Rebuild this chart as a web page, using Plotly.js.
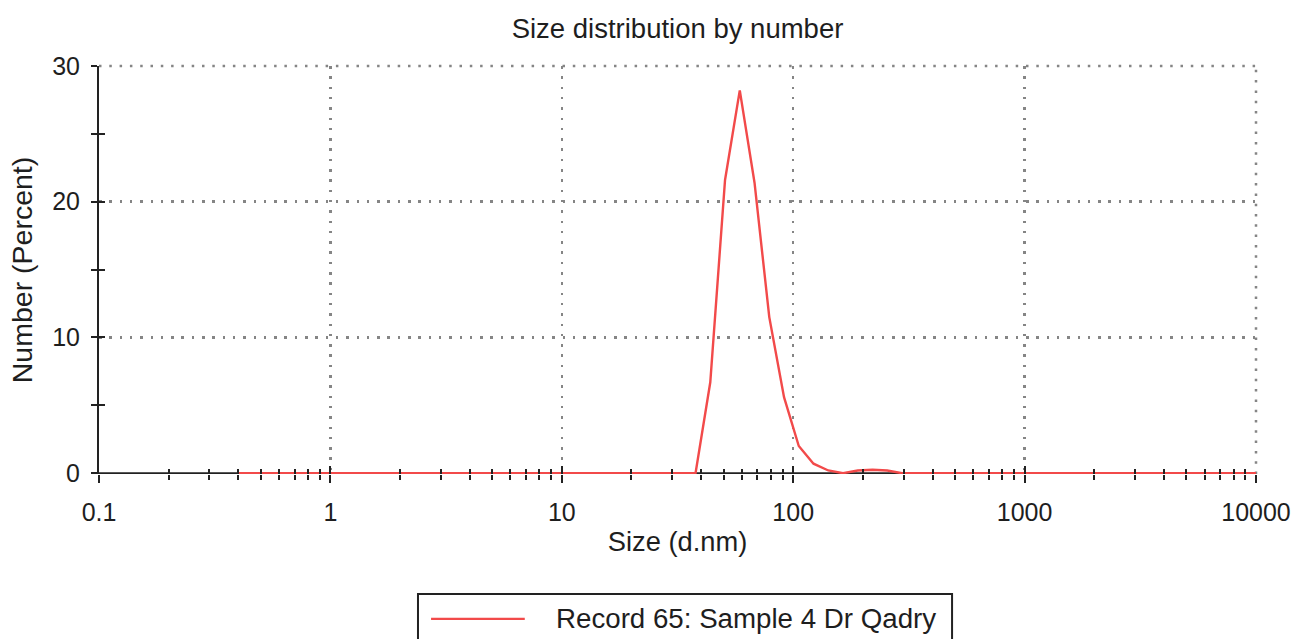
<!DOCTYPE html>
<html>
<head>
<meta charset="utf-8">
<script src="https://cdn.plot.ly/plotly-3.0.1.min.js"></script>
<style>
html,body{margin:0;padding:0;background:#fff;}
#chart{width:1298px;height:639px;}
</style>
</head>
<body>
<div id="chart"></div>
<script>
// Size bins (d.nm)
const sizes = [0.4, 0.4632, 0.5365, 0.6213, 0.7195, 0.8332, 0.9649, 1.117, 1.294, 1.499,
  1.736, 2.01, 2.328, 2.696, 3.122, 3.615, 4.187, 4.849, 5.615, 6.503,
  7.531, 8.721, 10.1, 11.7, 13.54, 15.69, 18.17, 21.04, 24.36, 28.21,
  32.67, 37.84, 43.82, 50.75, 58.77, 68.06, 78.82, 91.28, 105.7, 122.4,
  141.8, 164.2, 190.1, 220.2, 255, 295.3, 342, 396.1, 458.7, 531.2,
  615.1, 712.4, 825, 955.4, 1106, 1281, 1484, 1718, 1990, 2305,
  2669, 3091, 3580, 4145, 4801, 5560, 6439, 7456, 8635, 10000];
// Number (%) per bin
const numberPct = [0,0,0,0,0,0,0,0,0,0,
  0,0,0,0,0,0,0,0,0,0,
  0,0,0,0,0,0,0,0,0,0,
  0,0, 6.7, 21.6, 28.2, 21.4, 11.5, 5.6, 2.0, 0.7,
  0.2, 0.0, 0.2, 0.25, 0.2, 0,0,0,0,0,
  0,0,0,0,0,0,0,0,0,0,
  0,0,0,0,0,0,0,0,0,0];

const xTickVals = [0.1, 1, 10, 100, 1000, 10000];
const xTickText = ['0.1', '1', '10', '100', '1000', '10000'];
const yTickVals = [0, 10, 20, 30];
const yMinorVals = [5, 15, 25];
const seriesName = 'Record 65: Sample 4 Dr Qadry';

const xMinorVals = [];
for (let d = -1; d < 4; d++) {
  for (let k = 2; k <= 9; k++) xMinorVals.push(k * Math.pow(10, d));
}

const FONT = 'Liberation Sans, Arial, Helvetica, sans-serif';
const TXT = '#1e1e1e';
const GRID = '#858585';
const gridDash = '2.5px,7.8px';
const RED = '#f24a4a';

const trace = {
  x: sizes, y: numberPct, type: 'scatter', mode: 'lines',
  name: seriesName, cliponaxis: false,
  line: {color: RED, width: 2.4},
  xaxis: 'x', yaxis: 'y', hoverinfo: 'x+y'
};
// invisible helper trace for the inside-tick overlay axes
const helper = {x: [0.1], y: [0], xaxis: 'x2', yaxis: 'y2', mode: 'markers',
  marker: {opacity: 0}, showlegend: false, hoverinfo: 'skip'};

const xr = [Math.log10(0.1), Math.log10(10000)];
const yr = [-0.06, 30];
const layout = {
  width: 1298, height: 639,
  margin: {l: 99, r: 42, t: 66, b: 165},
  paper_bgcolor: '#fff', plot_bgcolor: '#fff',
  showlegend: false,
  title: {text: 'Size distribution by number', font: {family: FONT, size: 27.5, color: TXT},
    x: 0.5, xanchor: 'center', xref: 'paper', y: 0.956, yanchor: 'middle'},
  font: {family: FONT, color: TXT},
  xaxis: {
    type: 'log', range: xr,
    tickmode: 'array', tickvals: xTickVals, ticktext: xTickText,
    ticks: 'outside', ticklen: 8, tickwidth: 2, tickcolor: '#222',
    ticklabelstandoff: 8,
    tickfont: {family: FONT, size: 25, color: TXT},
    showline: false,
    showgrid: true, gridcolor: GRID, gridwidth: 2.5, griddash: gridDash,
    zeroline: false, layer: 'above traces',
    minor: {tickmode: 'array', tickvals: xMinorVals, ticks: 'outside', ticklen: 5,
      tickwidth: 2, tickcolor: '#222', showgrid: false},
    title: {text: 'Size (d.nm)', font: {family: FONT, size: 27.3, color: TXT}, standoff: 6},
    fixedrange: true
  },
  yaxis: {
    range: yr,
    tickmode: 'array', tickvals: yTickVals,
    ticks: 'outside', ticklen: 6, tickwidth: 2, tickcolor: '#222',
    ticklabelstandoff: 6,
    tickfont: {family: FONT, size: 25, color: TXT},
    showline: true, linecolor: '#222', linewidth: 2,
    showgrid: true, gridcolor: GRID, gridwidth: 2.5, griddash: gridDash,
    zeroline: false, layer: 'below traces',
    minor: {tickmode: 'array', tickvals: yMinorVals, ticks: 'outside', ticklen: 6,
      tickwidth: 2, tickcolor: '#222', showgrid: false},
    title: {text: 'Number (Percent)', font: {family: FONT, size: 28.5, color: TXT}, standoff: 11},
    fixedrange: true
  },
  xaxis2: {
    type: 'log', range: xr, overlaying: 'x', anchor: 'y2',
    tickmode: 'array', tickvals: xTickVals, showticklabels: false,
    ticks: 'inside', ticklen: 8, tickwidth: 2, tickcolor: '#222',
    showline: false, showgrid: false, zeroline: false,
    minor: {tickmode: 'array', tickvals: xMinorVals, ticks: 'inside', ticklen: 5,
      tickwidth: 2, tickcolor: '#222', showgrid: false},
    fixedrange: true
  },
  yaxis2: {
    range: yr, overlaying: 'y', anchor: 'x2',
    tickmode: 'array', tickvals: yTickVals, showticklabels: false,
    ticks: 'inside', ticklen: 6, tickwidth: 2, tickcolor: '#222',
    showline: false, showgrid: false, zeroline: false,
    minor: {tickmode: 'array', tickvals: yMinorVals, ticks: 'inside', ticklen: 6,
      tickwidth: 2, tickcolor: '#222', showgrid: false},
    fixedrange: true
  },
  shapes: [
    // top and right gridlines (at the range edges)
    {type: 'line', xref: 'paper', yref: 'paper', x0: 0, x1: 1, y0: 1, y1: 1, layer: 'below',
      line: {color: GRID, width: 2.5, dash: gridDash}},
    {type: 'line', xref: 'paper', yref: 'paper', x0: 1, x1: 1, y0: 0, y1: 1, layer: 'below',
      line: {color: GRID, width: 2.5, dash: gridDash}},
    // x axis baseline at zero, beneath the trace
    {type: 'line', xref: 'paper', yref: 'y', x0: -0.001, x1: 1, y0: 0, y1: 0, layer: 'below',
      line: {color: '#222', width: 2}},
    // legend box
    {type: 'rect', xref: 'paper', yref: 'paper', x0: 0.2757, x1: 0.7373, y0: -0.2941, y1: -0.45,
      line: {color: '#222', width: 2}, fillcolor: 'rgba(0,0,0,0)'},
    {type: 'line', xref: 'paper', yref: 'paper', x0: 0.287, x1: 0.368, y0: -0.355, y1: -0.355,
      line: {color: RED, width: 2.4}}
  ],
  annotations: [
    {text: seriesName, xref: 'paper', yref: 'paper', x: 0.393, y: -0.355,
      xanchor: 'left', yanchor: 'middle', showarrow: false,
      font: {family: FONT, size: 27.7, color: TXT}}
  ]
};

Plotly.newPlot('chart', [trace, helper], layout, {displayModeBar: false, staticPlot: true});
</script>
</body>
</html>
